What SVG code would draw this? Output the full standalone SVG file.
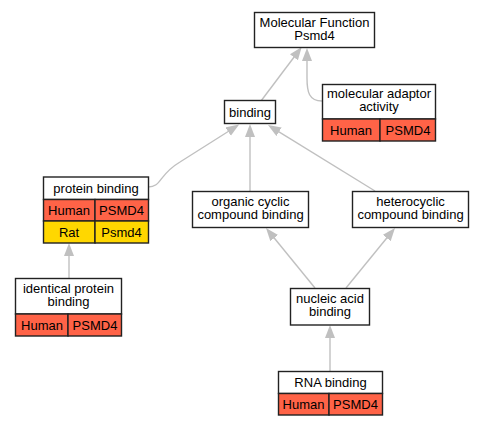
<svg xmlns="http://www.w3.org/2000/svg" width="484" height="427" viewBox="0 0 484 427">
<defs>
<style>
.box{fill:#ffffff;stroke:#222;stroke-width:1.4}
.hum{fill:#ff6347;stroke:#222;stroke-width:1.4}
.rat{fill:#ffd700;stroke:#222;stroke-width:1.4}
.edge{fill:none;stroke:#c0c0c0;stroke-width:1.4;marker-end:url(#arr)}
text{font-family:"Liberation Sans",Arial,sans-serif;font-size:13px;fill:#000;text-anchor:middle}
</style>
<marker id="arr" markerUnits="userSpaceOnUse" markerWidth="14" markerHeight="11" refX="1" refY="5" orient="auto">
<path d="M0,0 L13,5 L0,10 z" fill="#c0c0c0"/>
</marker>
</defs>
<rect width="484" height="427" fill="#ffffff"/>
<g id="edges">
<path class="edge" d="M261,101 L294.5,56.5"/>
<path class="edge" d="M322,101 C309,101 307,92 307,78 L307,60"/>
<path class="edge" d="M250,191 L250,136"/>
<path class="edge" d="M375,191 L278.2,131.3"/>
<path class="edge" d="M148,187 C162,187 158,175 180,162 L229,131"/>
<path class="edge" d="M69,278 L69,255"/>
<path class="edge" d="M315,288 L273.6,237.3"/>
<path class="edge" d="M346,288 L387.4,237.3"/>
<path class="edge" d="M330,371 L330,337"/>
</g>
<g id="mf">
<rect class="box" x="254.5" y="12.5" width="120" height="35"/>
<text x="314.5" y="26.5">Molecular Function</text>
<text x="314.5" y="40">Psmd4</text>
</g>
<g id="adaptor">
<rect class="box" x="322.5" y="84.5" width="113" height="34.5"/>
<rect class="hum" x="322.5" y="119" width="57.5" height="22"/>
<rect class="hum" x="380" y="119" width="55.5" height="22"/>
<text x="379" y="97.75">molecular adaptor</text>
<text x="379" y="111.25">activity</text>
<text x="351" y="134.6">Human</text>
<text x="408" y="134.6">PSMD4</text>
</g>
<g id="binding">
<rect class="box" x="224.5" y="100.5" width="51" height="23"/>
<text x="250" y="116.6">binding</text>
</g>
<g id="protein">
<rect class="box" x="43.5" y="177" width="105" height="22.5"/>
<rect class="hum" x="43.5" y="199.5" width="51.5" height="21.5"/>
<rect class="hum" x="95" y="199.5" width="53.5" height="21.5"/>
<rect class="rat" x="43.5" y="221" width="51.5" height="22"/>
<rect class="rat" x="95" y="221" width="53.5" height="22"/>
<text x="96" y="192.75">protein binding</text>
<text x="69" y="214.9">Human</text>
<text x="121.5" y="214.9">PSMD4</text>
<text x="69" y="236.6">Rat</text>
<text x="121.5" y="236.6">Psmd4</text>
</g>
<g id="identical">
<rect class="box" x="15.5" y="278.5" width="106" height="35.5"/>
<rect class="hum" x="15.5" y="314" width="52.5" height="22"/>
<rect class="hum" x="68" y="314" width="53.5" height="22"/>
<text x="68.5" y="292.5">identical protein</text>
<text x="68.5" y="306">binding</text>
<text x="42" y="329.6">Human</text>
<text x="95" y="329.6">PSMD4</text>
</g>
<g id="organic">
<rect class="box" x="192.5" y="191.5" width="116" height="36"/>
<text x="250.5" y="205.5">organic cyclic</text>
<text x="250.5" y="219">compound binding</text>
</g>
<g id="hetero">
<rect class="box" x="352.5" y="191.5" width="116" height="36"/>
<text x="410.5" y="205.5">heterocyclic</text>
<text x="410.5" y="219">compound binding</text>
</g>
<g id="nucleic">
<rect class="box" x="290.5" y="288.5" width="79" height="36.5"/>
<text x="330" y="302.75">nucleic acid</text>
<text x="330" y="316.25">binding</text>
</g>
<g id="rna">
<rect class="box" x="278.5" y="371.5" width="104" height="22"/>
<rect class="hum" x="278.5" y="393.5" width="50.5" height="21.5"/>
<rect class="hum" x="329" y="393.5" width="53.5" height="21.5"/>
<text x="330.5" y="387">RNA binding</text>
<text x="303.5" y="408.9">Human</text>
<text x="355.5" y="408.9">PSMD4</text>
</g>
</svg>
